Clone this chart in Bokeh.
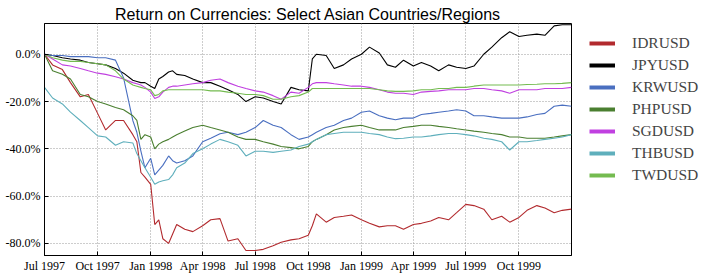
import pandas as pd
from bokeh.plotting import figure
from bokeh.layouts import row
from bokeh.models import (Legend, LegendItem, FixedTicker, MonthsTicker,
                          DatetimeTickFormatter, Range1d)
from bokeh.embed import file_html
from bokeh.resources import INLINE

dates = [
    "1997-07-01", "1997-07-15", "1997-08-01", "1997-08-15", "1997-09-01", "1997-09-15",
    "1997-10-01", "1997-10-15", "1997-11-01", "1997-11-15", "1997-12-01", "1997-12-08",
    "1997-12-15", "1997-12-22",
    "1998-01-01", "1998-01-08", "1998-01-15", "1998-01-22", "1998-02-01", "1998-02-08",
    "1998-02-15", "1998-03-01", "1998-03-15", "1998-04-01", "1998-04-15", "1998-05-01",
    "1998-05-15", "1998-06-01", "1998-06-15", "1998-07-01", "1998-07-15", "1998-08-01",
    "1998-08-15", "1998-09-01", "1998-09-15", "1998-10-01", "1998-10-08", "1998-10-15",
    "1998-11-01", "1998-11-15", "1998-12-01", "1998-12-15",
    "1999-01-01", "1999-01-15", "1999-02-01", "1999-02-15", "1999-03-01", "1999-03-15",
    "1999-04-01", "1999-04-15", "1999-05-01", "1999-05-15", "1999-06-01", "1999-06-15",
    "1999-07-01", "1999-07-15", "1999-08-01", "1999-08-15", "1999-09-01", "1999-09-15",
    "1999-10-01", "1999-10-15", "1999-11-01", "1999-11-15", "1999-12-01", "1999-12-15",
    "1999-12-31",
]

# returns in percent
idrusd = [0, -4.5, -6.5, -12, -18, -17, -25, -32, -28, -28, -34, -37, -50, -52,
          -55, -72, -70, -78, -80, -76, -72, -74, -75, -72.5, -70, -69.5, -79, -78, -83, -83,
          -82.5, -81, -79.5, -78.5, -78, -76.5, -72.5, -67.5, -71, -69, -68.5, -68,
          -70, -71.5, -73, -72.5, -72.5, -74, -72, -71.5, -70.5, -69, -70, -67, -63.5, -64,
          -65.5, -70, -68.5, -71, -69, -66, -64, -65, -67, -66, -65.5]
jpyusd = [0, -0.5, -1.5, -2, -2.5, -3.5, -4, -4.5, -6, -8, -11, -11.5, -12, -12,
          -13.5, -14.5, -10.5, -9.4, -7.5, -7, -8.5, -9, -10.5, -12, -12, -13.5, -15, -17, -20, -18,
          -18.5, -20, -21, -14, -15, -15.5, -2, 0, -0.5, -6, -4.5, -2,
          0, 3, 0.5, -4.5, -5.5, -2.5, -5, -3.5, -5, -7, -4.5, -5.5, -6, -5,
          0, 3, 7, 9.5, 7.5, 8, 8.5, 8, 12, 12.5, 12.5]
krwusd = [0, -0.5, -0.5, -1, -1, -1, -1.5, -1.5, -2.5, -10, -28, -33, -41, -48,
          -44, -51, -49, -47, -43, -45, -46, -45, -43, -37, -35.5, -33.6, -33, -34, -33, -31,
          -28, -30, -31, -34, -36, -35, -34, -33, -31, -30, -28, -27,
          -24.5, -24, -26, -27, -27.7, -27, -27, -25.5, -25, -24.5, -24, -23.5, -24, -26,
          -26, -26.5, -27, -27, -27, -26.5, -25.5, -25, -22, -21.5, -22]
phpusd = [0, -7, -8.5, -10.5, -17, -18, -20, -21, -22.5, -23.5, -26, -28, -36, -34,
          -35, -40, -38, -37, -36, -35, -34, -32.5, -31, -30, -31, -32, -33, -35, -36, -36,
          -37, -38, -39, -39.5, -40, -39, -37, -36, -34, -32, -31, -30.5,
          -30, -31, -32, -32, -32, -31, -30.5, -30, -30, -30.5, -31, -31.5, -32, -32.5,
          -33, -33.5, -34, -35, -35, -35.5, -35.5, -35.5, -35, -34.5, -34]
sgdusd = [0, -2, -4.5, -5, -6, -7, -8, -8.5, -9.5, -10.5, -12, -12.5, -13, -14,
          -16, -18.7, -18, -16, -14, -13.5, -13.5, -13, -12.5, -12, -11, -10.5, -12, -13.5, -14.5, -15.5,
          -16, -17.5, -19, -16, -16.5, -14, -12.5, -12, -12, -12.5, -13, -13.5,
          -13.5, -14, -15, -16, -16.5, -16.5, -17, -16, -15.7, -15.5, -15, -15, -15, -14.5,
          -14.5, -15, -15.5, -16.5, -15, -15, -15, -14.5, -14.5, -14.5, -14]
thbusd = [-14, -18.5, -21, -24.5, -28, -31, -34.5, -35, -38.5, -37, -37.5, -42, -45, -48,
          -52, -55, -54, -53.5, -53, -51, -48, -46, -42, -40, -38, -36, -37, -38.5, -43, -41,
          -41, -41.5, -41, -40.5, -39, -38, -37, -36, -34, -33.5, -33, -33,
          -33, -33.5, -34, -35, -35.7, -35.5, -35, -35, -34.5, -34, -33.5, -33.5, -34, -34.5,
          -35.5, -36, -37, -40.5, -37, -37, -36.5, -36, -35.5, -35, -34]
twdusd = [0, -1.5, -2.5, -3, -3, -3.5, -4, -4.5, -7, -10.5, -13, -13.5, -14, -14.5,
          -15, -17.5, -17, -15.5, -15, -15, -15, -15, -15, -15, -15.5, -15.5, -16, -16.5, -17, -17,
          -17.5, -19, -19, -18, -17.5, -16, -14.5, -14.5, -14.5, -14.5, -14.5, -14.5,
          -14.5, -14.5, -15, -15.5, -15.7, -15.7, -15.5, -15, -15, -14.5, -14.5, -14, -14, -13.5,
          -13, -13, -13, -13, -13, -12.8, -12.7, -12.5, -12.5, -12.3, -12]

names = ["IDRUSD", "JPYUSD", "KRWUSD", "PHPUSD", "SGDUSD", "THBUSD", "TWDUSD"]
series = [idrusd, jpyusd, krwusd, phpusd, sgdusd, thbusd, twdusd]
colors = ["#b22a2e", "#000000", "#4a6fc0", "#4a7f30", "#c040e0", "#5fafbc", "#74bb50"]

y_ticks = [-80, -60, -40, -20, 0]
y_labels = ["-80.0%", "-60.0%", "-40.0%", "-20.0%", "0.0%"]

SERIF = "Liberation Serif, Times New Roman, serif"

x = pd.to_datetime(dates)
x_start, x_end = pd.Timestamp("1997-07-01"), pd.Timestamp("1999-12-31")

H = 275
p = figure(width=572, height=H, x_axis_type="datetime",
           x_axis_label=None, y_axis_label=None,
           output_backend="svg", toolbar_location=None,
           min_border_left=44, min_border_right=1, min_border_top=23, min_border_bottom=0,
           x_range=Range1d(x_start, x_end), y_range=Range1d(-85.1, 13.0),
           title="Return on Currencies: Select Asian Countries/Regions")
p.background_fill_color = "white"
p.border_fill_color = "white"
p.outline_line_color = "black"
p.outline_line_width = 1

p.title.text_font = "Liberation Sans"
p.title.text_font_size = "16px"
p.title.text_font_style = "normal"
p.title.text_color = "black"
p.title.align = "center"
p.title.standoff = 1
p.title.offset = 0

for s, c in zip(series, colors):
    p.line(x, s, line_color=c, line_width=1.1)

# axes
p.yaxis.ticker = FixedTicker(ticks=y_ticks)
p.yaxis.major_label_overrides = {t: l for t, l in zip(y_ticks, y_labels)}
p.xaxis.ticker = MonthsTicker(months=[0, 3, 6, 9])
p.xgrid.ticker = p.xaxis.ticker
p.xaxis.formatter = DatetimeTickFormatter(months="%b %Y", days="%b %Y")
for ax in (p.xaxis, p.yaxis):
    ax.axis_label = None
    ax.major_label_text_font = SERIF
    ax.major_label_text_font_size = "12px"
    ax.major_label_text_color = "black"
    ax.major_tick_in = 4
    ax.major_tick_out = 0
    ax.minor_tick_in = 0
    ax.minor_tick_out = 0
    ax.axis_line_color = "black"
    ax.major_tick_line_color = "black"
p.yaxis.major_label_standoff = 4
p.xaxis.major_label_standoff = 3

for g in (p.xgrid, p.ygrid):
    g.grid_line_color = "#9a9a9a"
    g.grid_line_dash = "1 2"
    g.grid_line_width = 1

# legend panel: a second figure at the right holding only the legend
lg = figure(width=141, height=H, output_backend="svg", toolbar_location=None,
            x_axis_location=None, y_axis_location=None,
            min_border_left=7, min_border_right=0, min_border_top=0, min_border_bottom=0,
            x_range=Range1d(x_start, x_end), y_range=Range1d(-85.1, 13.0))
lg.outline_line_color = None
lg.grid.visible = False
lg.background_fill_color = "white"
lg.border_fill_color = "white"

items = []
for n, s, c in zip(names, series, colors):
    r = lg.line(x, s, line_color=c, line_width=4, visible=False)
    items.append(LegendItem(label=n, renderers=[r]))
legend = Legend(items=items, location="top_left",
                margin=10, padding=0, spacing=2, glyph_width=26, glyph_height=20,
                label_height=20, label_standoff=17,
                label_text_font=SERIF, label_text_font_size="15.5px",
                border_line_alpha=0, background_fill_alpha=0)
lg.add_layout(legend)

layout = row(p, lg)
open("out.html", "w").write(file_html(layout, INLINE))
